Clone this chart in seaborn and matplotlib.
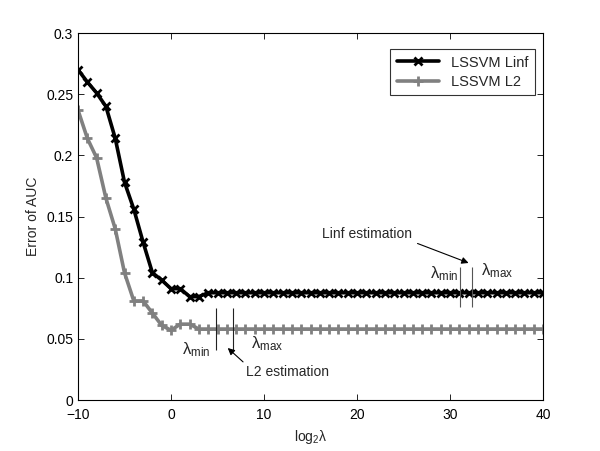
import numpy as np
import pandas as pd
import matplotlib
matplotlib.use("Agg")
import matplotlib.pyplot as plt
import seaborn as sns

# ---- data ----
x_vals = [-10, -9, -8, -7, -6, -5, -4, -3, -2, -1, 0, 1, 2, 3, 4, 5, 6, 7, 8, 9,
          10, 11, 12, 13, 14, 15, 16, 17, 18, 19, 20, 21, 22, 23, 24, 25, 26, 27, 28, 29,
          30, 31, 32, 33, 34, 35, 36, 37, 38, 39, 40]
linf_vals = [0.270, 0.260, 0.251, 0.240, 0.214, 0.178, 0.156, 0.129, 0.104, 0.098,
             0.091, 0.091, 0.0845, 0.0845, 0.0877, 0.0877, 0.0877, 0.0877, 0.0877, 0.0877,
             0.0877, 0.0877, 0.0877, 0.0877, 0.0877, 0.0877, 0.0877, 0.0877, 0.0877, 0.0877,
             0.0877, 0.0877, 0.0877, 0.0877, 0.0877, 0.0877, 0.0877, 0.0877, 0.0877, 0.0877,
             0.0877, 0.0877, 0.0877, 0.0877, 0.0877, 0.0877, 0.0877, 0.0877, 0.0877, 0.0877,
             0.0877]
l2_vals = [0.237, 0.214, 0.198, 0.165, 0.140, 0.104, 0.081, 0.081, 0.071, 0.061,
           0.057, 0.062, 0.062, 0.058, 0.058, 0.058, 0.058, 0.058, 0.058, 0.058,
           0.058, 0.058, 0.058, 0.058, 0.058, 0.058, 0.058, 0.058, 0.058, 0.058,
           0.058, 0.058, 0.058, 0.058, 0.058, 0.058, 0.058, 0.058, 0.058, 0.058,
           0.058, 0.058, 0.058, 0.058, 0.058, 0.058, 0.058, 0.058, 0.058, 0.058,
           0.058]
series_names = ["LSSVM Linf", "LSSVM L2"]
series_colors = ["black", "#808080"]
lam_l2 = [4.8, 6.7]      # lambda_min, lambda_max for L2
lam_linf = [31.1, 32.4]  # lambda_min, lambda_max for Linf
x_ticks = [-10, 0, 10, 20, 30, 40]
y_ticks = [0, 0.05, 0.1, 0.15, 0.2, 0.25, 0.3]
y_tick_labels = ["0", "0.05", "0.1", "0.15", "0.2", "0.25", "0.3"]

sns.set_style("ticks")
plt.rcParams["font.family"] = ["Liberation Sans", "DejaVu Sans"]
plt.rcParams["mathtext.fontset"] = "custom"
plt.rcParams["mathtext.rm"] = "Liberation Sans"
plt.rcParams["mathtext.it"] = "Liberation Sans"

fig = plt.figure(figsize=(6.0, 4.51), dpi=100)
ax = fig.add_axes([78 / 600, 1 - 400 / 451, (543 - 78) / 600, (400 - 33) / 451])

sns.lineplot(x=x_vals, y=linf_vals, color=series_colors[0], marker="x",
             linewidth=2.6, markersize=6, markeredgewidth=2.0,
             markeredgecolor=series_colors[0], markerfacecolor=series_colors[0],
             label=series_names[0], ax=ax)
sns.lineplot(x=x_vals, y=l2_vals, color=series_colors[1], marker="+",
             linewidth=2.6, markersize=7.5, markeredgewidth=2.0,
             markeredgecolor=series_colors[1], markerfacecolor=series_colors[1],
             label=series_names[1], ax=ax)

# lambda range markers
ax.vlines(lam_l2, 0.041, 0.075, color="#222222", linewidth=0.8)
ax.vlines(lam_linf, 0.076, 0.109, color="#555555", linewidth=0.8)

fs = 10
ax.text(1.2, 0.041, r"$\lambda_{\rm min}$", fontsize=12, va="center", ha="left")
ax.text(8.6, 0.046, r"$\lambda_{\rm max}$", fontsize=12, va="center", ha="left")
ax.annotate("L2 estimation", xy=(6.1, 0.0425), xytext=(8.1, 0.023),
            fontsize=fs, va="center", ha="left",
            arrowprops=dict(arrowstyle="-|>", color="black", lw=0.8,
                            mutation_scale=10, shrinkA=0, shrinkB=0,
                            relpos=(0.0, 1.0)))
ax.annotate("Linf estimation", xy=(32.0, 0.112), xytext=(16.2, 0.1355),
            fontsize=fs, va="center", ha="left",
            arrowprops=dict(arrowstyle="-|>", color="black", lw=0.8,
                            mutation_scale=10, shrinkA=2, shrinkB=0,
                            relpos=(1.0, 0.0)))
ax.text(27.9, 0.103, r"$\lambda_{\rm min}$", fontsize=12, va="center", ha="left")
ax.text(33.3, 0.106, r"$\lambda_{\rm max}$", fontsize=12, va="center", ha="left")

ax.set_xlim(-10, 40)
ax.set_ylim(0, 0.3)
ax.set_xticks(x_ticks)
ax.set_yticks(y_ticks)
ax.set_yticklabels(y_tick_labels)
ax.tick_params(direction="in", top=True, right=True, labelsize=10, length=4,
               width=0.6, colors="black")
ax.tick_params(axis="x", pad=6)
for s in ax.spines.values():
    s.set_visible(True)
    s.set_linewidth(0.8)
    s.set_color("black")
ax.set_xlabel(r"log$_2$λ", fontsize=10)
ax.set_ylabel("Error of AUC", fontsize=10)

leg = ax.legend(loc="upper right", bbox_to_anchor=(535 / 600, 1 - 49 / 451),
                bbox_transform=fig.transFigure, borderaxespad=0,
                fontsize=10.5, frameon=True, numpoints=1,
                fancybox=False, edgecolor="black", handlelength=2.9,
                borderpad=0.45, labelspacing=0.35, markerscale=1.0)
leg.get_frame().set_linewidth(0.8)
for h in leg.get_lines():
    h.set_linewidth(2.6)

fig.savefig("out.png", dpi=100)
